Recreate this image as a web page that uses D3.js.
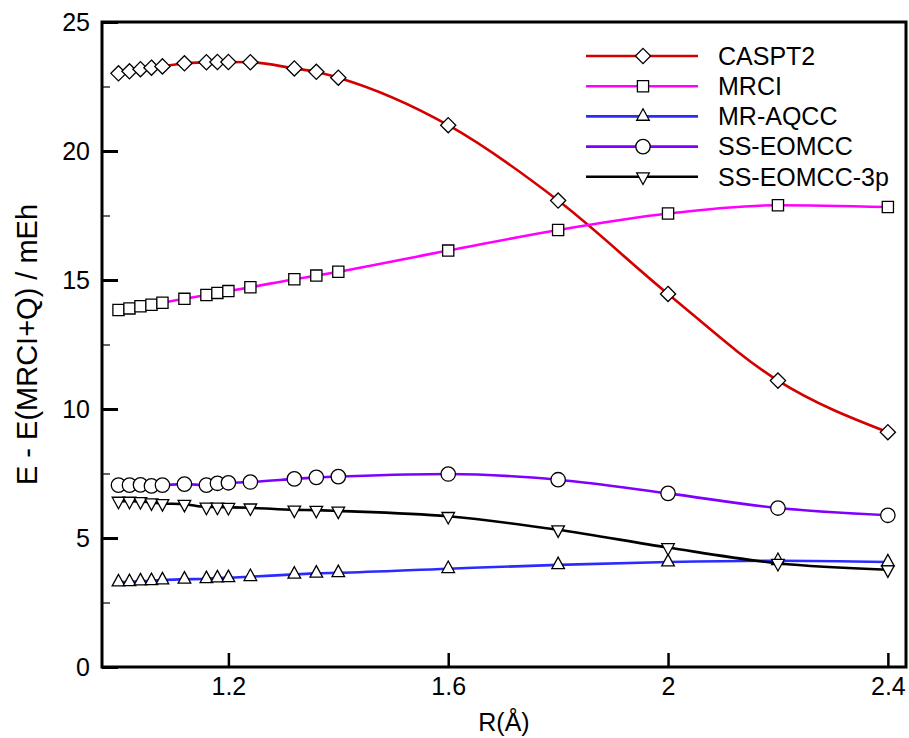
<!DOCTYPE html>
<html>
<head>
<meta charset="utf-8">
<script src="https://cdn.jsdelivr.net/npm/d3@7"></script>
<style>
  body { margin: 0; background: #fff; }
  svg { display: block; font-family: "Liberation Sans", Arial, sans-serif; }
</style>
</head>
<body>
<div id="chart"></div>
<script>
// bond distances (Å)
const rValues = [1.0, 1.02, 1.04, 1.06, 1.08, 1.12, 1.16, 1.18, 1.2, 1.24, 1.32, 1.36, 1.4, 1.6, 1.8, 2.0, 2.2, 2.4];

// E - E(MRCI+Q) in mEh
const caspt2 = [23.01, 23.09, 23.17, 23.23, 23.28, 23.40, 23.44, 23.45, 23.45, 23.44, 23.20, 23.07, 22.84, 21.0, 18.08, 14.46, 11.10, 9.10];
const mrci = [13.84, 13.90, 13.98, 14.04, 14.12, 14.27, 14.42, 14.50, 14.57, 14.72, 15.03, 15.17, 15.32, 16.14, 16.94, 17.58, 17.90, 17.83];
const mraqcc = [3.29, 3.30, 3.33, 3.34, 3.37, 3.40, 3.42, 3.45, 3.46, 3.50, 3.59, 3.63, 3.65, 3.81, 3.96, 4.07, 4.12, 4.07];
const sseomcc = [7.05, 7.05, 7.06, 7.02, 7.05, 7.09, 7.05, 7.12, 7.14, 7.17, 7.29, 7.35, 7.38, 7.48, 7.26, 6.73, 6.16, 5.88];
const sseomcc3p = [6.43, 6.43, 6.42, 6.37, 6.34, 6.31, 6.20, 6.20, 6.19, 6.17, 6.09, 6.08, 6.05, 5.84, 5.32, 4.63, 4.02, 3.77];

const seriesNames = ["CASPT2", "MRCI", "MR-AQCC", "SS-EOMCC", "SS-EOMCC-3p"];
const seriesColors = ["#d40000", "#ff00ff", "#2b2bff", "#8000ff", "#000000"];
const seriesMarkers = ["diamond", "square", "triUp", "circle", "triDown"];

const xTicks = [1.2, 1.6, 2.0, 2.4];
const yTicks = [0, 5, 10, 15, 20, 25];
const yMinorTicks = [2.5, 7.5, 12.5, 17.5, 22.5];

const width = 909;
const height = 738;
const margin = { top: 22, right: 3, bottom: 71, left: 102 };

const svg = d3
  .select("#chart")
  .append("svg")
  .attr("width", width)
  .attr("height", height);

const x = d3.scaleLinear().domain([0.97, 2.433]).range([margin.left, width - margin.right]);
const y = d3.scaleLinear().domain([0, 25]).range([height - margin.bottom, margin.top]);

// marker shapes, point sits on the centroid like the original
const markerTypes = {
  diamond: { draw(c) { const a = 7.6; c.moveTo(0, -a); c.lineTo(a, 0); c.lineTo(0, a); c.lineTo(-a, 0); c.closePath(); } },
  square: { draw(c) { const a = 5.6; c.rect(-a, -a, 2 * a, 2 * a); } },
  circle: { draw(c) { c.moveTo(7.2, 0); c.arc(0, 0, 7.2, 0, 2 * Math.PI); } },
  triUp: { draw(c) { const w = 6.3, h = 11.5; c.moveTo(0, -2 * h / 3); c.lineTo(w, h / 3); c.lineTo(-w, h / 3); c.closePath(); } },
  triDown: { draw(c) { const w = 6.3, h = 11.5; c.moveTo(0, 2 * h / 3); c.lineTo(w, -h / 3); c.lineTo(-w, -h / 3); c.closePath(); } },
};

const seriesData = [caspt2, mrci, mraqcc, sseomcc, sseomcc3p];

const line = d3
  .line()
  .x((d) => x(d[0]))
  .y((d) => y(d[1]))
  .curve(d3.curveMonotoneX);

// series
seriesData.forEach((vals, i) => {
  const pts = rValues.map((r, j) => [r, vals[j]]);
  const g = svg.append("g");
  g.append("path")
    .attr("d", line(pts))
    .attr("fill", "none")
    .attr("stroke", seriesColors[i])
    .attr("stroke-width", 2.6);
  g.selectAll("path.mk")
    .data(pts)
    .enter()
    .append("path")
    .attr("class", "mk")
    .attr("d", d3.symbol().type(markerTypes[seriesMarkers[i]]))
    .attr("transform", (d) => `translate(${x(d[0])},${y(d[1])})`)
    .attr("fill", "#fff")
    .attr("stroke", "#000")
    .attr("stroke-width", 1.3);
});

// axes
const yAxis = svg
  .append("g")
  .attr("transform", `translate(${margin.left},0)`)
  .call(d3.axisLeft(y).tickValues(yTicks).tickSizeInner(-16).tickSizeOuter(0).tickPadding(12));
yAxis.select(".domain").remove();
yAxis.selectAll("line").attr("stroke-width", 3);

const yMinor = svg
  .append("g")
  .attr("transform", `translate(${margin.left},0)`)
  .call(d3.axisLeft(y).tickValues(yMinorTicks).tickSizeInner(-8).tickSizeOuter(0).tickFormat(""));
yMinor.select(".domain").remove();
yMinor.selectAll("line").attr("stroke-width", 1.2);

const xAxis = svg
  .append("g")
  .attr("transform", `translate(0,${height - margin.bottom})`)
  .call(d3.axisBottom(x).tickValues(xTicks).tickFormat(d3.format("")).tickSizeInner(-14).tickSizeOuter(0).tickPadding(10));
xAxis.select(".domain").remove();
xAxis.selectAll("line").attr("stroke-width", 2.5);

svg.selectAll(".tick text").attr("font-size", 25).attr("fill", "#000").style("font-family", "Liberation Sans, Arial, sans-serif");

// frame
svg.append("rect")
  .attr("x", margin.left)
  .attr("y", margin.top)
  .attr("width", width - margin.left - margin.right)
  .attr("height", height - margin.top - margin.bottom)
  .attr("fill", "none")
  .attr("stroke", "#000")
  .attr("stroke-width", 3);

// axis titles
svg.append("text")
  .attr("x", (margin.left + width - margin.right) / 2)
  .attr("y", 731)
  .attr("text-anchor", "middle")
  .attr("font-size", 25)
  .text("R(Å)");

svg.append("text")
  .attr("transform", `translate(37,${(margin.top + height - margin.bottom) / 2}) rotate(-90)`)
  .attr("text-anchor", "middle")
  .attr("font-size", 29)
  .text("E - E(MRCI+Q) / mEh");

// legend
const legend = svg.append("g").attr("transform", "translate(586,56)");
seriesNames.forEach((name, i) => {
  const row = legend.append("g").attr("transform", `translate(0,${i * 30.2})`);
  row.append("line")
    .attr("x1", 0).attr("x2", 112)
    .attr("stroke", seriesColors[i])
    .attr("stroke-width", 2.6);
  row.append("path")
    .attr("d", d3.symbol().type(markerTypes[seriesMarkers[i]]))
    .attr("transform", "translate(57,0)")
    .attr("fill", "#fff")
    .attr("stroke", "#000")
    .attr("stroke-width", 1.3);
  row.append("text")
    .attr("x", 132)
    .attr("dy", "0.35em")
    .attr("font-size", 25)
    .text(name);
});
</script>
</body>
</html>
